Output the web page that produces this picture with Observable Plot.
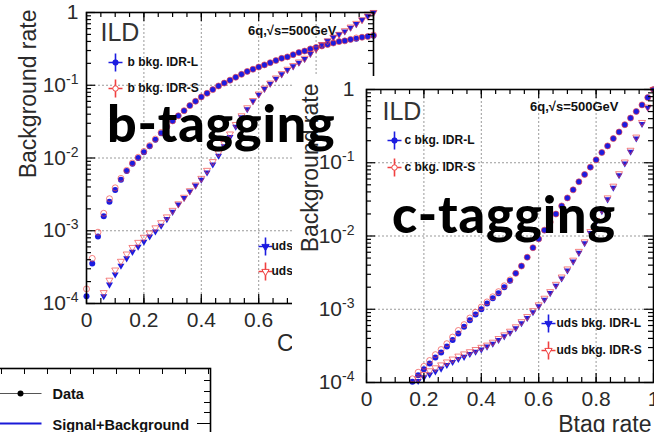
<!DOCTYPE html>
<html><head><meta charset="utf-8">
<script src="https://cdn.jsdelivr.net/npm/d3@7"></script>
<script src="https://cdn.jsdelivr.net/npm/@observablehq/plot@0.6"></script>
<style>
html,body{margin:0;padding:0;background:#fff;}
#stage{position:relative;width:654px;height:432px;overflow:hidden;background:#fff;font-family:"Liberation Sans",Arial,sans-serif;}
#stage svg{position:absolute;margin:0;max-width:none;}
#overlay text{font-family:Lato,"Open Sans",sans-serif;font-weight:900;font-size:52px;letter-spacing:0.8px;fill:#000;}
</style></head><body><div id="stage"></div>
<script>
// ---------- data (signal efficiency grid, background rates as log10) ----------
const effGrid = [0.00,0.02,0.04,0.06,0.08,0.10,0.12,0.14,0.16,0.18,0.20,0.22,0.24,0.26,0.28,0.30,0.32,0.34,0.36,0.38,0.40,0.42,0.44,0.46,0.48,0.50,0.52,0.54,0.56,0.58,0.60,0.62,0.64,0.66,0.68,0.70,0.72,0.74,0.76,0.78,0.80,0.82,0.84,0.86,0.88,0.90,0.92,0.94,0.96,0.98,1.00];

// b-tagging panel
const bTag_bBkg_L = [-3.90,-3.45,-3.08,-2.80,-2.60,-2.44,-2.30,-2.18,-2.08,-2.00,-1.92,-1.84,-1.75,-1.66,-1.57,-1.49,-1.42,-1.35,-1.28,-1.22,-1.16,-1.11,-1.06,-1.01,-0.97,-0.93,-0.89,-0.85,-0.81,-0.78,-0.75,-0.72,-0.69,-0.66,-0.63,-0.61,-0.58,-0.55,-0.53,-0.50,-0.48,-0.46,-0.44,-0.42,-0.40,-0.39,-0.37,-0.36,-0.34,-0.33,-0.32];
const bTag_bBkg_S = [-3.80,-3.38,-3.02,-2.76,-2.56,-2.41,-2.28,-2.17,-2.07,-1.99,-1.91,-1.83,-1.74,-1.65,-1.57,-1.49,-1.42,-1.35,-1.28,-1.22,-1.16,-1.11,-1.06,-1.01,-0.97,-0.93,-0.89,-0.85,-0.81,-0.78,-0.75,-0.72,-0.69,-0.66,-0.63,-0.61,-0.58,-0.55,-0.53,-0.50,-0.48,-0.46,-0.44,-0.42,-0.40,-0.39,-0.37,-0.35,-0.34,-0.33,-0.31];
const bTag_udsBkg_L = [null,null,null,-3.90,-3.74,-3.60,-3.48,-3.38,-3.29,-3.22,-3.15,-3.08,-3.01,-2.93,-2.84,-2.74,-2.64,-2.55,-2.46,-2.38,-2.30,-2.20,-2.09,-1.97,-1.84,-1.71,-1.57,-1.44,-1.33,-1.22,-1.13,-1.05,-0.98,-0.91,-0.85,-0.79,-0.74,-0.69,-0.64,-0.57,-0.50,-0.44,-0.39,-0.34,-0.30,-0.26,-0.21,-0.16,-0.10,-0.05,0.00];
const bTag_udsBkg_S = [null,null,null,-3.85,-3.68,-3.54,-3.42,-3.32,-3.23,-3.16,-3.09,-3.03,-2.96,-2.89,-2.81,-2.72,-2.63,-2.54,-2.45,-2.37,-2.28,-2.17,-2.05,-1.93,-1.80,-1.67,-1.54,-1.42,-1.31,-1.21,-1.12,-1.04,-0.97,-0.90,-0.84,-0.78,-0.73,-0.68,-0.63,-0.56,-0.50,-0.44,-0.39,-0.34,-0.30,-0.25,-0.20,-0.15,-0.10,-0.05,0.00];

// c-tagging panel
const cTag_cBkg_L = [null,null,null,null,null,null,null,null,-3.99,-3.90,-3.82,-3.74,-3.66,-3.59,-3.51,-3.42,-3.33,-3.24,-3.15,-3.07,-3.00,-2.92,-2.85,-2.78,-2.70,-2.61,-2.51,-2.41,-2.29,-2.16,-2.04,-1.92,-1.81,-1.70,-1.59,-1.48,-1.37,-1.26,-1.16,-1.06,-0.96,-0.86,-0.77,-0.67,-0.58,-0.48,-0.39,-0.30,-0.21,-0.11,0.00];
const cTag_cBkg_S = [null,null,null,null,null,null,null,null,-3.95,-3.86,-3.78,-3.70,-3.62,-3.55,-3.47,-3.38,-3.29,-3.21,-3.12,-3.04,-2.97,-2.90,-2.83,-2.76,-2.68,-2.60,-2.51,-2.41,-2.29,-2.16,-2.04,-1.92,-1.81,-1.70,-1.59,-1.48,-1.37,-1.26,-1.16,-1.06,-0.96,-0.86,-0.77,-0.67,-0.58,-0.48,-0.39,-0.30,-0.21,-0.11,0.00];
const cTag_udsBkg_L = [null,null,null,null,null,null,null,null,null,-3.98,-3.93,-3.89,-3.85,-3.81,-3.76,-3.72,-3.68,-3.65,-3.61,-3.58,-3.55,-3.51,-3.47,-3.42,-3.37,-3.32,-3.26,-3.19,-3.12,-3.04,-2.96,-2.87,-2.78,-2.68,-2.58,-2.47,-2.35,-2.23,-2.10,-1.96,-1.81,-1.66,-1.50,-1.34,-1.17,-1.01,-0.85,-0.67,-0.47,-0.25,0.00];
const cTag_udsBkg_S = [null,null,null,null,null,null,null,null,null,-3.95,-3.89,-3.84,-3.80,-3.76,-3.72,-3.68,-3.64,-3.61,-3.58,-3.55,-3.52,-3.49,-3.45,-3.40,-3.35,-3.30,-3.24,-3.17,-3.10,-3.02,-2.94,-2.85,-2.76,-2.66,-2.56,-2.45,-2.33,-2.21,-2.08,-1.94,-1.79,-1.64,-1.48,-1.32,-1.15,-0.99,-0.83,-0.65,-0.45,-0.24,0.00];

// ticks and labels
const xTickValues = [0, 0.2, 0.4, 0.6, 0.8, 1];
const xTickLabels = ["0", "0.2", "0.4", "0.6", "0.8", "1"];
const yTickValues = [1e-4, 1e-3, 1e-2, 1e-1, 1];
const yTickLabels = ["10^-4", "10^-3", "10^-2", "10^-1", "1"];
const yTitle = "Background rate";
const experiment = "ILD";
const processText = "6q,\u221As=500GeV";
const fragItems = ["Data", "Signal+Background"];

// ---------- helpers ----------
const BLUE = "#1c1ce0", RED = "#f04040";
const rows = (ylog) => effGrid.map((x, i) => ({x, y: ylog[i] == null ? null : Math.pow(10, ylog[i])})).filter(d => d.y != null && d.y >= 1e-4);
const xMinor = d3.range(1, 20).map(i => i * 0.05);
const yMinor = [-4, -3, -2, -1].flatMap(k => d3.range(2, 10).map(m => m * Math.pow(10, k)));
const crossSymbol = {draw(ctx) { ctx.moveTo(-7, 0); ctx.lineTo(7, 0); ctx.moveTo(0, -9); ctx.lineTo(0, 9); }};
const lineSymbol = {draw(ctx) { ctx.moveTo(-21, 0); ctx.lineTo(21, 0); }};

function legendEntry(label, color, symbol, filled, dx, dy, textDx) {
  return [
    Plot.dot([label], {frameAnchor: "top-left", dx, dy, symbol: crossSymbol, stroke: color, strokeWidth: 1.6, fill: "none"}),
    Plot.dot([label], {frameAnchor: "top-left", dx, dy, symbol, r: 2.7, rotate: symbol === "triangle" ? 180 : 0, fill: filled ? color : "white", stroke: color, strokeWidth: 1}),
    Plot.text([label], {frameAnchor: "top-left", dx: textDx, dy, text: d => d, textAnchor: "start", lineAnchor: "middle", fontSize: 12, fontWeight: "bold", fill: "#111"})
  ];
}

function seriesMarks(upperL, upperS, lowerL, lowerS) {
  return [
    Plot.dot(rows(upperL), {x: "x", y: "y", r: 3, fill: BLUE, stroke: "none", symbol: "circle"}),
    Plot.dot(rows(lowerL), {x: "x", y: "y", r: 2.6, fill: BLUE, stroke: "none", symbol: "triangle", rotate: 180}),
    Plot.dot(rows(upperS), {x: "x", y: "y", r: 3, fill: "none", stroke: RED, strokeOpacity: 0.65, strokeWidth: 1, symbol: "circle"}),
    Plot.dot(rows(lowerS), {x: "x", y: "y", r: 2.6, fill: "none", stroke: RED, strokeOpacity: 0.65, strokeWidth: 1, symbol: "triangle", rotate: 180})
  ];
}

function panel(o) {
  const W = o.width - o.ml - o.mr, H = o.height - o.mt - o.mb;
  const svg = Plot.plot({
    width: o.width, height: o.height,
    marginLeft: o.ml, marginRight: o.mr, marginTop: o.mt, marginBottom: o.mb,
    style: {background: "white", overflow: "visible", fontFamily: "'Liberation Sans', Arial, sans-serif", fontSize: "21px", color: "#2a2a2a"},
    x: {domain: [0, 1]},
    y: {type: "log", domain: [1e-4, 1]},
    marks: [
      Plot.ruleX([0.2, 0.4, 0.6, 0.8], {stroke: "#9a9a9a", strokeDasharray: "2,2", strokeWidth: 1}),
      Plot.ruleY([1e-3, 1e-2, 1e-1], {stroke: "#9a9a9a", strokeDasharray: "2,2", strokeWidth: 1}),
      ...seriesMarks(...o.series),
      Plot.tickX(xTickValues, {x: d => d, insetTop: H - 9, stroke: "black", strokeWidth: 1.2}),
      Plot.tickX(xTickValues, {x: d => d, insetBottom: H - 9, stroke: "black", strokeWidth: 1.2}),
      Plot.tickX(xMinor, {x: d => d, insetTop: H - 5, stroke: "black", strokeWidth: 1.2}),
      Plot.tickX(xMinor, {x: d => d, insetBottom: H - 5, stroke: "black", strokeWidth: 1.2}),
      Plot.tickY(yTickValues, {y: d => d, insetRight: W - 9, stroke: "black", strokeWidth: 1.2}),
      Plot.tickY(yTickValues, {y: d => d, insetLeft: W - 9, stroke: "black", strokeWidth: 1.2}),
      Plot.tickY(yMinor, {y: d => d, insetRight: W - 5, stroke: "black", strokeWidth: 1.2}),
      Plot.tickY(yMinor, {y: d => d, insetLeft: W - 5, stroke: "black", strokeWidth: 1.2}),
      Plot.frame({stroke: "black", strokeWidth: 1.6}),
      Plot.axisX({ticks: xTickValues, tickSize: 0, tickPadding: 9, tickFormat: d => xTickLabels[xTickValues.indexOf(d)], fontSize: 21, label: null}),
      Plot.axisY({ticks: yTickValues, tickSize: 0, tickPadding: o.yPad, tickFormat: d => yTickLabels[yTickValues.indexOf(d)], fontSize: 21, label: null}),
      Plot.text([yTitle], {frameAnchor: "top-left", dx: o.yTitleDx, dy: o.yTitleDy, rotate: -90, text: d => d, textAnchor: "end", lineAnchor: "middle", fontSize: 23, fill: "#2a2a2a"}),
      Plot.text([o.xTitle], {frameAnchor: "bottom-right", dx: -2, dy: o.xTitleDy, text: d => d, textAnchor: "end", lineAnchor: "middle", fontSize: 23, fill: "#2a2a2a"}),
      Plot.text([experiment], {frameAnchor: "top-left", dx: o.ildDx, dy: o.ildDy, text: d => d, textAnchor: "start", lineAnchor: "top", fontSize: 25, fill: "#333"}),
      Plot.text([processText], {frameAnchor: "top-right", dx: o.procDx, dy: o.procDy, text: d => d, textAnchor: "end", lineAnchor: "middle", fontSize: 13, fontWeight: "bold", fill: "#111"}),
      ...o.legend.flatMap(e => legendEntry(...e))
    ]
  });
  // superscript exponents on log tick labels
  svg.querySelectorAll("text").forEach(t => {
    const s = t.textContent;
    if (s.includes("^")) {
      const [b, e] = s.split("^");
      t.textContent = b;
      const ts = document.createElementNS("http://www.w3.org/2000/svg", "tspan");
      ts.setAttribute("dy", "-8");
      ts.setAttribute("font-size", "14");
      ts.textContent = e;
      t.appendChild(ts);
    }
  });
  svg.style.left = o.left + "px";
  svg.style.top = o.top + "px";
  return svg;
}

const stage = document.getElementById("stage");

// left panel (b-tagging)
stage.appendChild(panel({
  left: 0, top: 0, width: 400, height: 360, ml: 86, mr: 27, mt: 12, mb: 57, yPad: 8,
  series: [bTag_bBkg_L, bTag_bBkg_S, bTag_udsBkg_L, bTag_udsBkg_S],
  xTitle: "Ctag rate", xTitleDy: 40, yTitleDx: -58, yTitleDy: -3,
  ildDx: 14, ildDy: 11, procDx: -37, procDy: 18,
  legend: [
    ["b bkg. IDR-L", BLUE, "circle", true, 29, 50, 41],
    ["b bkg. IDR-S", RED, "circle", false, 29, 76, 41],
    ["uds bkg. IDR-L", BLUE, "triangle", true, 179, 234, 185],
    ["uds bkg. IDR-S", RED, "triangle", false, 179, 259, 185]
  ]
}));

// legend fragment of a further plot (bottom left)
stage.appendChild((() => {
  const svg = Plot.plot({
    width: 235, height: 90, marginTop: 8, marginRight: 5, marginBottom: 0, marginLeft: 0,
    style: {background: "transparent", overflow: "visible", fontFamily: "'Liberation Sans', Arial, sans-serif"},
    x: {domain: [-0.913, 9.087], axis: null},
    y: {domain: [368, 450], range: [8, 90], axis: null},
    marks: [
      Plot.frame({stroke: "black", strokeWidth: 1.6}),
      Plot.tickX(d3.range(0, 10), {x: d => d, insetBottom: 76, stroke: "black"}),
      Plot.tickY([380, 391, 402, 412], {y: d => d, insetLeft: 224, stroke: "black"}),
      Plot.tickY([423], {y: d => d, insetLeft: 217, stroke: "black"}),
      Plot.dot([fragItems[0]], {y: 393, frameAnchor: "left", dx: 40, symbol: lineSymbol, stroke: "#555", strokeWidth: 1}),
      Plot.dot([fragItems[0]], {y: 393, frameAnchor: "left", dx: 40, r: 3, fill: "black"}),
      Plot.dot([fragItems[1]], {y: 423, frameAnchor: "left", dx: 40, symbol: lineSymbol, stroke: "#1a1ad8", strokeWidth: 2.2}),
      Plot.text([fragItems[0]], {y: 394, frameAnchor: "left", dx: 72, text: d => d, textAnchor: "start", lineAnchor: "middle", fontSize: 14.5, fontWeight: "bold", fill: "#111"}),
      Plot.text([fragItems[1]], {y: 425, frameAnchor: "left", dx: 72, text: d => d, textAnchor: "start", lineAnchor: "middle", fontSize: 14.5, fontWeight: "bold", fill: "#111"})
    ]
  });
  svg.style.left = "-20px"; svg.style.top = "360px";
  return svg;
})());

// right panel (c-tagging)
stage.appendChild(panel({
  left: 292, top: 76, width: 362, height: 356, ml: 74, mr: 1, mt: 13, mb: 50, yPad: 12,
  series: [cTag_cBkg_L, cTag_cBkg_S, cTag_udsBkg_L, cTag_udsBkg_S],
  xTitle: "Btag rate", xTitleDy: 42, yTitleDx: -56, yTitleDy: -6,
  ildDx: 16, ildDy: 13, procDx: -35, procDy: 17,
  legend: [
    ["c bkg. IDR-L", BLUE, "circle", true, 28, 51, 38],
    ["c bkg. IDR-S", RED, "circle", false, 28, 78, 38],
    ["uds bkg. IDR-L", BLUE, "triangle", true, 182, 234, 190],
    ["uds bkg. IDR-S", RED, "triangle", false, 182, 261, 190]
  ]
}));

// big overlay labels
const ov = document.createElementNS("http://www.w3.org/2000/svg", "svg");
ov.setAttribute("id", "overlay");
ov.setAttribute("width", 654); ov.setAttribute("height", 432);
ov.style.left = "0px"; ov.style.top = "0px"; ov.style.pointerEvents = "none";
ov.innerHTML = '<text x="107" y="142">b-tagging</text><text x="392" y="233">c-tagging</text>';
stage.appendChild(ov);
</script></body></html>
